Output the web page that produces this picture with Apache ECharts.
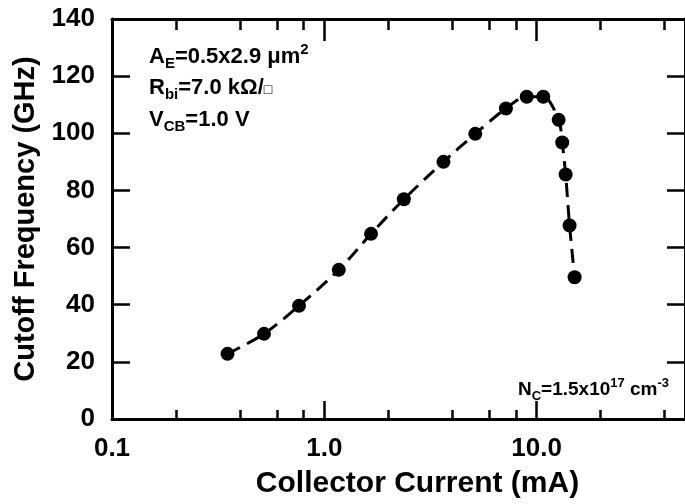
<!DOCTYPE html>
<html>
<head>
<meta charset="utf-8">
<script src="https://cdn.jsdelivr.net/npm/echarts@6/dist/echarts.min.js"></script>
<style>
  html, body { margin: 0; padding: 0; background: #fff; }
  #chart { width: 685px; height: 504px; }
</style>
</head>
<body>
<div id="chart"></div>
<script>
// Collector current (mA) and measured cutoff frequency (GHz)
const collectorCurrent = [0.35, 0.52, 0.76, 1.17, 1.66, 2.37, 3.64, 5.14, 7.17, 8.98, 10.75, 12.7, 13.2, 13.7, 14.3, 15.1];
const cutoffFrequency = [22.8, 29.8, 39.6, 52.2, 64.8, 76.9, 90.0, 99.8, 108.7, 112.8, 112.8, 104.7, 96.8, 85.6, 67.7, 49.6];

// Axis ticks
const xMajorTicks = [0.1, 1, 10];
const xMajorLabels = ['0.1', '1.0', '10.0'];
const xMinorTicks = [0.2, 0.4, 0.6, 0.8, 2, 4, 6, 8, 20, 40];
const yTickValues = [0, 20, 40, 60, 80, 100, 120, 140];

// Device annotation lines: [text, kind]
const deviceLines = [
  [['A', 'n'], ['E', 'sub'], ['=0.5x2.9 ', 'n'], ['\u03BCm', 'n'], ['2', 'sup']],
  [['R', 'n'], ['bi', 'sub'], ['=7.0 k\u03A9/', 'n'], ['\u25A1', 'box']],
  [['V', 'n'], ['CB', 'sub'], ['=1.0 V', 'n']]
];
const dopingLine = [['N', 'n'], ['C', 'sub'], ['=1.5x10', 'n'], ['17', 'sup'], [' cm', 'n'], ['-3', 'sup']];

const FONT = '"Liberation Sans", Arial, Helvetica, sans-serif';
const measureCtx = document.createElement('canvas').getContext('2d');

// Lay out a run of normal / sub / superscript pieces along one baseline
function textRun(parts, x0, baseline, size) {
  const els = [];
  let x = x0;
  for (const [t, kind] of parts) {
    let fs = size, dy = 0;
    if (kind === 'sub') { fs = Math.round(size * 0.7); dy = size * 0.24; }
    else if (kind === 'sup') { fs = Math.round(size * 0.7); dy = -size * 0.42; }
    else if (kind === 'box') { fs = Math.round(size * 0.62); }
    const font = 'bold ' + fs + 'px ' + FONT;
    measureCtx.font = font;
    const w = measureCtx.measureText(t).width;
    els.push({
      type: 'text',
      x: x,
      y: baseline + dy - 0.34 * fs,
      style: { text: t, font: font, fill: '#000', align: 'left', verticalAlign: 'middle' }
    });
    x += w;
  }
  return els;
}

const graphics = [];
const lineBaselines = [64, 95, 127];
deviceLines.forEach((ln, i) => graphics.push(...textRun(ln, 149, lineBaselines[i], 22)));
graphics.push(...textRun(dopingLine, 518, 396, 19));

const points = collectorCurrent.map((c, i) => [c, cutoffFrequency[i]]);

const axisLineStyle = { color: '#000', width: 3 };
const tickLine = { color: '#000', width: 2.5 };

function xAxisDef(position, ticks, length, showLabel, showLine) {
  return {
    type: 'log',
    logBase: 10,
    min: 0.1,
    max: 50,
    position: position,
    axisLine: { show: showLine, onZero: false, lineStyle: axisLineStyle },
    axisTick: { show: true, inside: true, length: length, customValues: ticks, lineStyle: tickLine },
    axisLabel: {
      show: showLabel,
      customValues: xMajorTicks,
      margin: 17,
      color: '#000',
      fontFamily: FONT,
      fontWeight: 'bold',
      fontSize: 26,
      formatter: v => {
        const idx = xMajorTicks.findIndex(t => Math.abs(t - v) / t < 1e-6);
        return idx >= 0 ? xMajorLabels[idx] : '';
      }
    },
    splitLine: { show: false },
    minorTick: { show: false }
  };
}

const chart = echarts.init(document.getElementById('chart'), null, { renderer: 'canvas' });
const xMain = xAxisDef('bottom', xMajorTicks, 18, true, true);
xMain.name = 'Collector Current (mA)';
xMain.nameLocation = 'middle';
xMain.nameGap = 50;
xMain.nameTextStyle = { color: '#000', fontFamily: FONT, fontWeight: 'bold', fontSize: 30, padding: [0, 0, 0, 38] };

chart.setOption({
  animation: false,
  backgroundColor: '#fff',
  grid: { left: 112, top: 19, right: -5, bottom: 85, containLabel: false },
  xAxis: [
    xMain,
    xAxisDef('bottom', xMinorTicks, 9, false, false),
    xAxisDef('top', xMajorTicks, 22, false, true),
    xAxisDef('top', xMinorTicks, 11, false, false)
  ],
  yAxis: [
    {
      type: 'value', min: 0, max: 140, interval: 20, position: 'left',
      name: 'Cutoff Frequency (GHz)', nameLocation: 'middle', nameGap: 72,
      nameTextStyle: { color: '#000', fontFamily: FONT, fontWeight: 'bold', fontSize: 29 },
      axisLine: { show: true, lineStyle: axisLineStyle },
      axisTick: { show: true, inside: true, length: 18, lineStyle: tickLine },
      axisLabel: { color: '#000', fontFamily: FONT, fontWeight: 'bold', fontSize: 26, margin: 17 },
      splitLine: { show: false }
    },
    {
      type: 'value', min: 0, max: 140, interval: 20, position: 'right',
      axisLine: { show: true, lineStyle: axisLineStyle },
      axisTick: { show: true, inside: true, length: 18, lineStyle: tickLine },
      axisLabel: { show: false },
      splitLine: { show: false }
    }
  ],
  series: [{
    type: 'line',
    data: points,
    xAxisIndex: 0,
    yAxisIndex: 0,
    smooth: 0.3,
    symbol: 'circle',
    symbolSize: 14,
    itemStyle: { color: '#000' },
    lineStyle: { color: '#000', width: 3, type: [14, 8] },
    z: 5
  }],
  graphic: graphics
});
</script>
</body>
</html>
